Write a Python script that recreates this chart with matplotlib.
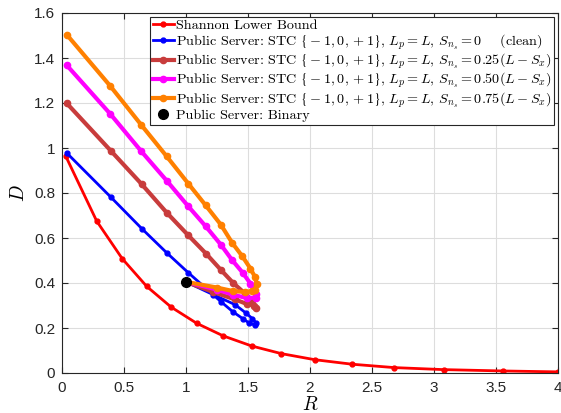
import matplotlib
matplotlib.use("Agg")
import matplotlib.pyplot as plt

plt.rcParams['mathtext.fontset'] = 'custom'
plt.rcParams['mathtext.rm'] = 'cmr10'
plt.rcParams['mathtext.it'] = 'cmmi10'
plt.rcParams['mathtext.bf'] = 'cmb10'
plt.rcParams['mathtext.sf'] = 'STIXGeneral'
plt.rcParams['mathtext.fallback'] = 'stix'
plt.rcParams['axes.unicode_minus'] = False

# Data
slb_R = [0.03, 0.28, 0.486, 0.683, 0.88, 1.086, 1.30, 1.53, 1.77, 2.04, 2.34, 2.68, 3.08, 3.56, 4.0]
slb_D = [0.964, 0.675, 0.508, 0.385, 0.293, 0.221, 0.165, 0.12, 0.086, 0.059, 0.039, 0.024, 0.015, 0.009, 0.005]

clean_R = [0.038, 0.395, 0.643, 0.847, 1.018, 1.282, 1.376, 1.457, 1.51, 1.556, 1.565, 1.535, 1.48, 1.395, 1.22, 1.0]
clean_D = [0.978, 0.781, 0.642, 0.533, 0.446, 0.317, 0.273, 0.242, 0.222, 0.213, 0.222, 0.242, 0.268, 0.304, 0.348, 0.405]

s25_R = [0.038, 0.393, 0.643, 0.844, 1.018, 1.161, 1.28, 1.381, 1.476, 1.53, 1.565, 1.55, 1.49, 1.395, 1.22, 1.0]
s25_D = [1.199, 0.988, 0.839, 0.713, 0.612, 0.531, 0.459, 0.40, 0.353, 0.326, 0.289, 0.30, 0.307, 0.327, 0.36, 0.405]

s50_R = [0.038, 0.39, 0.64, 0.844, 1.018, 1.159, 1.28, 1.373, 1.457, 1.52, 1.565, 1.565, 1.49, 1.38, 1.247, 1.0]
s50_D = [1.368, 1.151, 0.985, 0.855, 0.741, 0.652, 0.571, 0.501, 0.446, 0.397, 0.35, 0.335, 0.333, 0.348, 0.371, 0.405]

s75_R = [0.038, 0.387, 0.64, 0.844, 1.018, 1.159, 1.28, 1.373, 1.454, 1.52, 1.556, 1.57, 1.556, 1.535, 1.476, 1.38, 1.247, 1.0]
s75_D = [1.504, 1.277, 1.102, 0.963, 0.842, 0.745, 0.66, 0.578, 0.519, 0.464, 0.427, 0.397, 0.371, 0.364, 0.36, 0.364, 0.38, 0.405]

binary_R = [1.0]
binary_D = [0.405]

labels = [
    "Shannon Lower Bound",
    r"Public Server: STC $\mathsf{\{}-1,0,+1\mathsf{\}}$, $L_p=L$, $S_{n_s}=0$    (clean)",
    r"Public Server: STC $\mathsf{\{}-1,0,+1\mathsf{\}}$, $L_p=L$, $S_{n_s}=0.25(L-S_x)$",
    r"Public Server: STC $\mathsf{\{}-1,0,+1\mathsf{\}}$, $L_p=L$, $S_{n_s}=0.50(L-S_x)$",
    r"Public Server: STC $\mathsf{\{}-1,0,+1\mathsf{\}}$, $L_p=L$, $S_{n_s}=0.75(L-S_x)$",
    "Public Server: Binary",
]
xticks = [0, 0.5, 1, 1.5, 2, 2.5, 3, 3.5, 4]
yticks = [0, 0.2, 0.4, 0.6, 0.8, 1.0, 1.2, 1.4, 1.6]

fig = plt.figure(figsize=(5.61, 4.13), dpi=100)
ax = fig.add_axes([62/561, 40/413, 496/561, 360/413])

series = [
    (slb_R, slb_D, '#FF0000', 2.0),
    (clean_R, clean_D, '#0000FF', 2.0),
    (s25_R, s25_D, '#C83C3C', 3.0),
    (s50_R, s50_D, '#FF00FF', 3.0),
    (s75_R, s75_D, '#FF8000', 3.0),
]
handles = []
for (r, d, c, lw), lab in zip(series, labels[:5]):
    h, = ax.plot(r, d, '-', color=c, lw=lw, marker='o', ms=4.5 if lw > 2 else 3.5,
                 label=lab, clip_on=True)
    handles.append(h)
h, = ax.plot(binary_R, binary_D, 'o', color='black', ms=7, ls='none', label=labels[5], zorder=5)
handles.append(h)

ax.set_xlim(0, 4)
ax.set_ylim(0, 1.6)
ax.set_xticks(xticks)
ax.set_yticks(yticks)
ax.set_xticklabels(['0', '0.5', '1', '1.5', '2', '2.5', '3', '3.5', '4'],
                   fontfamily='Liberation Sans', fontsize=11)
ax.set_yticklabels(['0', '0.2', '0.4', '0.6', '0.8', '1', '1.2', '1.4', '1.6'],
                   fontfamily='Liberation Sans', fontsize=11)
ax.tick_params(direction='in', top=True, right=True, colors='#262626', length=4)
ax.tick_params(axis='x', pad=6)
ax.tick_params(axis='y', pad=5)
ax.grid(True, color='#DDDDDD', lw=0.8)
ax.set_axisbelow(True)
for s in ax.spines.values():
    s.set_color('#262626')
    s.set_linewidth(0.8)

ax.set_xlabel(r'$R$', fontsize=14, labelpad=0)
ax.set_ylabel(r'$D$', fontsize=14, labelpad=4)

fs = 10.2
leg = ax.legend(handles=handles, loc='upper right',
                prop={'family': 'cmr10', 'size': fs},
                handlelength=1.5, handletextpad=0.15, borderpad=0.2,
                labelspacing=0.0, borderaxespad=0.25,
                fancybox=False, framealpha=1, edgecolor='#262626')
leg.get_frame().set_linewidth(0.8)

fig.savefig('out.png', dpi=100)
